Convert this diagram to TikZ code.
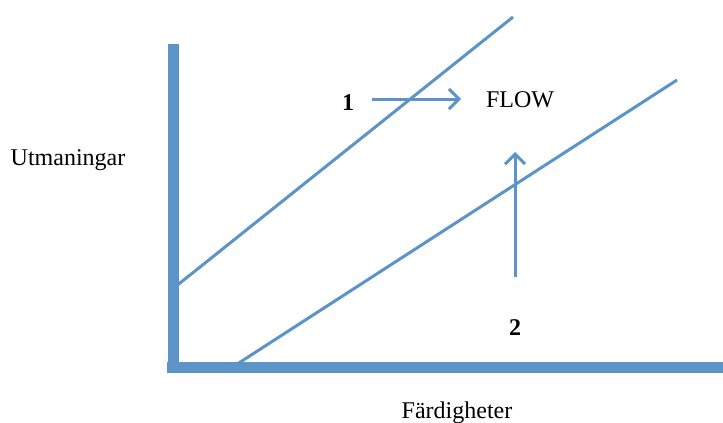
\documentclass[tikz,border=0pt]{standalone}
\usepackage{fontspec}
\setmainfont{Liberation Serif}
\usepackage{tikz}
\usetikzlibrary{arrows.meta, positioning}
\definecolor{flowBlue}{RGB}{92, 148, 200}

\begin{document}
\begin{tikzpicture}[x=1pt, y=-1pt,
    lbl/.style={anchor=base, inner sep=0pt, font=\fontsize{24}{27}\selectfont},
    num/.style={lbl, font=\fontsize{24}{27}\selectfont\bfseries},
    ax/.style={flowBlue, line width=11pt},
    trend/.style={flowBlue, line width=3pt},
    arrow/.style={flowBlue, line width=3pt, -{Straight Barb[length=10pt, width=20pt]}}]
  \useasboundingbox (0,0) rectangle (723,423);
  % Axes
  \draw[ax] (173,44) -- (173,372);
  \draw[ax] (167,367) -- (723,367);
  % Boundary lines
  \draw[trend] (175,287) -- (513,17);
  \draw[trend] (228,370) -- (677,80);
  % Labels
  \node[lbl] (yname) at (68,165) {Utmaningar};
  \node[lbl] (xname) at (457,418) {Färdigheter};
  \node[lbl] (flow) at (520,107) {FLOW};
  \node[num] (one) at (348,110) {1};
  \node[num] (two) at (515,335) {2};
  % Arrows towards flow
  \coordinate (oneTail) at (372,99);
  \coordinate (oneTip) at (461,99);
  \coordinate (twoTail) at (515,277);
  \coordinate (twoTip) at (515,152);
  \draw[arrow] (oneTail) -- (oneTip);
  \draw[arrow] (twoTail) -- (twoTip);
\end{tikzpicture}
\end{document}
